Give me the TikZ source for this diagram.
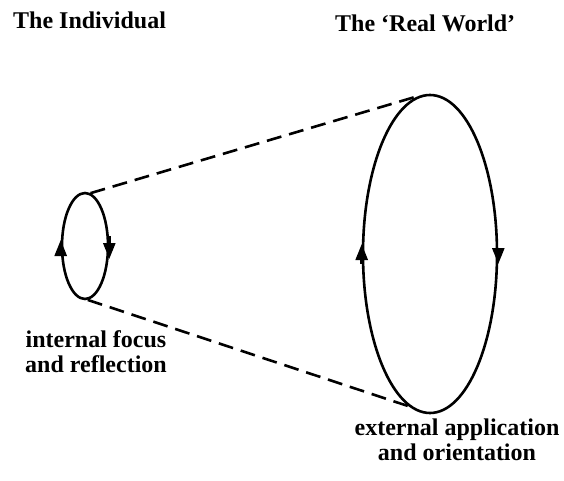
\documentclass[tikz,border=0pt]{standalone}
\usepackage{fontspec}
\setmainfont{Liberation Serif}
\usetikzlibrary{shapes.geometric,arrows.meta}
\begin{document}
\begin{tikzpicture}[x=1pt,y=-1pt,
  loop/.style={ellipse,draw,line width=2.6pt,inner sep=0pt},
  arr/.style={line width=2.6pt,-{Triangle[length=16pt,width=12pt]}},
  link/.style={line width=2.6pt,dash pattern=on 15pt off 8pt},
  lbl/.style={font=\bfseries\fontsize{24}{25}\selectfont,align=center,inner sep=0pt},
  ttl/.style={font=\bfseries\fontsize{24}{25}\selectfont,anchor=west,inner sep=0pt}]
\useasboundingbox (0,0) rectangle (564,481);
\node[loop,minimum width=46pt,minimum height=106pt] (small) at (85,246) {};
\node[loop,minimum width=134pt,minimum height=318pt] (big) at (430,254) {};
\draw[link] (small.84) -- (big.94);
\draw[link] (small.273) -- (big.262);
\draw[arr] ([yshift=10pt]small.east) -- ([yshift=-13pt]small.east);
\draw[arr] ([yshift=-10pt]small.west) -- ([yshift=6pt]small.west);
\draw[arr] ([yshift=6pt]big.east) -- ([yshift=-10pt]big.east);
\draw[arr] ([yshift=-10pt]big.west) -- ([yshift=10pt]big.west);
\node[ttl] (tind) at (13,20) {The Individual};
\node[ttl] (treal) at (335,23) {The ‘Real World’};
\node[lbl] (lint) at (96,352) {internal focus\\and reflection};
\node[lbl] (lext) at (457,440) {external application\\and orientation};
\end{tikzpicture}
\end{document}
